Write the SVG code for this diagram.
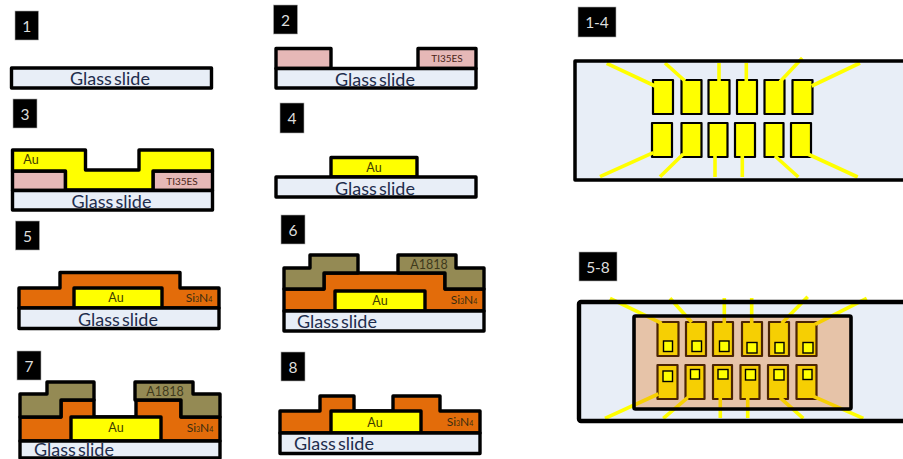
<svg xmlns="http://www.w3.org/2000/svg" width="903" height="459" viewBox="0 0 903 459">
<style>
text{font-family:Lato,"Liberation Sans",sans-serif;text-anchor:middle;dominant-baseline:central}
.k{stroke:#000;stroke-width:3.4;stroke-linejoin:round}
.glass{fill:#e8eef7}.pink{fill:#e6b8b7}.au{fill:#ff0}.si{fill:#e36c0a}.tan{fill:#948a54}
.lb{fill:#000;stroke:#aaa;stroke-width:.6}
.lt{fill:#ddd;font-size:15.5px}
.gt{fill:#1f2d4d;font-size:18px;word-spacing:-2.5px}
.at{fill:#3f3c00;font-size:12.5px}
.st{fill:#4a2418;font-size:10px}
.nt{fill:#3a2c10;font-size:12px}
.sb{font-size:7px}
.tt{fill:#3f3a1c;font-size:12.5px}
.pad{fill:#ff0;stroke:#000;stroke-width:2.2;stroke-linejoin:round}
.lead{stroke:#ff0;stroke-width:3.6;fill:none}
.sq{fill:#ff0;stroke:#000;stroke-width:1.4}
.ov{fill:#e36c0a;fill-opacity:.33}
.bd{fill:none;stroke:#000;stroke-linejoin:round}
</style>

<g id="step1">
<rect class="lb" x="15" y="11" width="23.500" height="29"/><text class="lt" x="26.700" y="26">1</text>
<rect class="glass k" x="11.500" y="68" width="200" height="20"/>
<text class="gt" x="110" y="78">Glass slide</text>
</g>

<g id="step2">
<rect class="lb" x="273.500" y="5" width="24" height="29"/><text class="lt" x="285.500" y="20">2</text>
<rect class="pink k" x="276" y="48.500" width="55" height="20"/>
<rect class="pink k" x="418" y="48.500" width="58" height="20"/>
<rect class="glass k" x="276" y="68.500" width="200" height="19.500"/>
<text class="st" x="447" y="58">TI35ES</text>
<text class="gt" x="375" y="78.500">Glass slide</text>
</g>

<g id="step3">
<rect class="lb" x="13" y="99" width="24" height="29"/><text class="lt" x="25" y="114">3</text>
<rect class="pink k" x="12.500" y="171" width="53" height="19.500"/>
<rect class="pink k" x="153" y="171" width="59.500" height="19.500"/>
<path class="au k" d="M12.500 171V150H85.500V170H139V150H212.500V171H153V190H65.500V171Z"/>
<rect class="glass k" x="12.500" y="190.500" width="200" height="19.500"/>
<text class="at" x="31" y="159">Au</text>
<text class="st" x="182" y="181">TI35ES</text>
<text class="gt" x="111.500" y="200.500">Glass slide</text>
</g>

<g id="step4">
<rect class="lb" x="280" y="103" width="24" height="30"/><text class="lt" x="292" y="118">4</text>
<rect class="au k" x="331" y="157.500" width="86" height="19.500"/>
<rect class="glass k" x="276" y="177" width="200" height="20"/>
<text class="at" x="374" y="167">Au</text>
<text class="gt" x="375" y="187.500">Glass slide</text>
</g>

<g id="step5">
<rect class="lb" x="15.500" y="221" width="24" height="29"/><text class="lt" x="27.500" y="236">5</text>
<path class="si k" d="M19 308V288H60V272.500H180V288H219V308Z"/>
<rect class="au k" x="74" y="288" width="88" height="20"/>
<rect class="glass k" x="19" y="308" width="200" height="20.500"/>
<text class="at" x="116" y="297">Au</text>
<text class="nt" x="199" y="297">Si<tspan class="sb" dy="2">3</tspan><tspan dy="-2">N</tspan><tspan class="sb" dy="2">4</tspan></text>
<text class="gt" x="118" y="319">Glass slide</text>
</g>

<g id="step6">
<rect class="lb" x="281" y="215" width="24" height="29"/><text class="lt" x="293" y="230">6</text>
<path class="si k" d="M284 311V289H324V273H445V289H484V311Z"/>
<path class="tan k" d="M284 289V268H310V255H358V273H324V289Z"/>
<path class="tan k" d="M398 273V255H456V268H484V289H445V273Z"/>
<rect class="au k" x="335" y="291" width="90" height="20"/>
<rect class="glass k" x="284" y="311" width="200" height="20"/>
<text class="at" x="380" y="300">Au</text>
<text class="nt" x="464" y="299">Si<tspan class="sb" dy="2">3</tspan><tspan dy="-2">N</tspan><tspan class="sb" dy="2">4</tspan></text>
<text class="tt" x="429" y="264">A1818</text>
<text class="gt" x="337" y="321">Glass slide</text>
</g>

<g id="step7">
<rect class="lb" x="17" y="351" width="24" height="29"/><text class="lt" x="29" y="366">7</text>
<path class="si k" d="M20 441V417H61V400H94V417H136V400H181V417H220V441Z"/>
<path class="tan k" d="M20 417V394H47V382H94V400H61V417Z"/>
<path class="tan k" d="M135 400V382H193V394H220V417H181V400Z"/>
<rect class="au k" x="71" y="417" width="90" height="24"/>
<rect class="glass k" x="20" y="441" width="200" height="17"/>
<text class="at" x="116" y="427">Au</text>
<text class="nt" x="200" y="427">Si<tspan class="sb" dy="2">3</tspan><tspan dy="-2">N</tspan><tspan class="sb" dy="2">4</tspan></text>
<text class="tt" x="165" y="391">A1818</text>
<text class="gt" x="74" y="448.500">Glass slide</text>
</g>

<g id="step8">
<rect class="lb" x="281" y="352" width="24" height="29"/><text class="lt" x="293" y="367">8</text>
<path class="si k" d="M280 433V411H320V396H354V411H393V396H440V411H480V433Z"/>
<rect class="au k" x="331" y="411" width="90" height="22"/>
<rect class="glass k" x="280" y="433" width="200" height="20.500"/>
<text class="at" x="375" y="422">Au</text>
<text class="nt" x="460" y="421">Si<tspan class="sb" dy="2">3</tspan><tspan dy="-2">N</tspan><tspan class="sb" dy="2">4</tspan></text>
<text class="gt" x="334" y="442.500">Glass slide</text>
</g>

<g id="mask1-4">
<rect class="lb" x="578" y="7" width="38" height="30"/><text class="lt" x="597" y="22">1-4</text>
<rect class="glass" x="575" y="61" width="340" height="119"/>
<g id="pads1-4">
<rect class="pad" x="653" y="80" width="20" height="34"/><rect class="pad" x="681.500" y="80" width="20" height="34"/><rect class="pad" x="708.500" y="80" width="21" height="34"/><rect class="pad" x="737" y="80" width="20" height="34"/><rect class="pad" x="764.500" y="80" width="20" height="34"/><rect class="pad" x="792.500" y="80" width="20" height="34"/>
<rect class="pad" x="652" y="123" width="20" height="34"/><rect class="pad" x="681.500" y="123" width="20" height="34"/><rect class="pad" x="708.500" y="123" width="19" height="34"/><rect class="pad" x="735" y="123" width="20" height="34"/><rect class="pad" x="764.500" y="123" width="19" height="34"/><rect class="pad" x="791" y="123" width="20" height="34"/>
</g>
<g id="leads1-4">
<path class="lead" d="M606.700 63.300L655 86M665 63L685 81M719 63V81M746.300 63V81M802.300 58L780 81.700M860 63L811.700 86M600 176.700L653.300 152.700M660 176.700L683.300 154M715 177V156M742.300 177V156M798.300 177L775 156M857.700 177L807.700 154"/>
</g>
<rect class="bd" x="575" y="61" width="340" height="119" stroke-width="3.500"/>
</g>

<g id="mask5-8">
<rect class="lb" x="579" y="252" width="38" height="29"/><text class="lt" x="598" y="267">5-8</text>
<rect class="glass" x="579" y="302" width="340" height="119"/>
<g id="pads5-8">
<rect class="pad" x="657.500" y="322" width="21" height="34"/><rect class="pad" x="686" y="322" width="20" height="34"/><rect class="pad" x="713" y="322" width="20" height="34"/><rect class="pad" x="742" y="322" width="20" height="34"/><rect class="pad" x="769" y="322" width="20" height="34"/><rect class="pad" x="796.500" y="322" width="20" height="34"/>
<rect class="pad" x="657.500" y="365" width="20" height="34"/><rect class="pad" x="685.500" y="365" width="19" height="34"/><rect class="pad" x="713" y="365" width="19" height="34"/><rect class="pad" x="740.500" y="365" width="19" height="34"/><rect class="pad" x="768" y="365" width="20" height="34"/><rect class="pad" x="796.500" y="365" width="20" height="34"/>
</g>
<g id="leads5-8">
<path class="lead" d="M610 298.300L661.700 323.300M670 298.300L691.700 322.300M724.300 298V323M751.700 298V323M807.700 296.700L781.700 323.300M866.700 298.300L815 324.300M605 418.300L658.300 394M663.300 418.300L687.700 397.700M720.300 418V398M747.700 418V398M803.300 418.300L780 397.700M863.300 418.300L811.700 395.700"/>
</g>
<rect class="ov" x="634" y="316" width="217" height="93"/>
<rect class="bd" x="634" y="316" width="217" height="93" rx="1.500" stroke-width="3.600"/>
<g id="windows5-8">
<rect class="sq" x="663.500" y="341" width="9" height="10.500"/><rect class="sq" x="692" y="341" width="9.500" height="10.500"/><rect class="sq" x="719.500" y="341" width="9.500" height="10.500"/><rect class="sq" x="747" y="342.500" width="10" height="10.500"/><rect class="sq" x="775" y="342.500" width="9" height="10.500"/><rect class="sq" x="803" y="342.500" width="10" height="10.500"/>
<rect class="sq" x="663" y="371" width="9.500" height="10.500"/><rect class="sq" x="690.500" y="369.500" width="9" height="9.500"/><rect class="sq" x="718" y="369.500" width="10" height="9.500"/><rect class="sq" x="745.500" y="369.500" width="10" height="10.500"/><rect class="sq" x="774" y="369.500" width="10" height="10.500"/><rect class="sq" x="803" y="369.500" width="9" height="10"/>
</g>
<rect class="bd" x="579" y="302" width="340" height="119" rx="2" stroke-width="4.400"/>
</g>
</svg>
